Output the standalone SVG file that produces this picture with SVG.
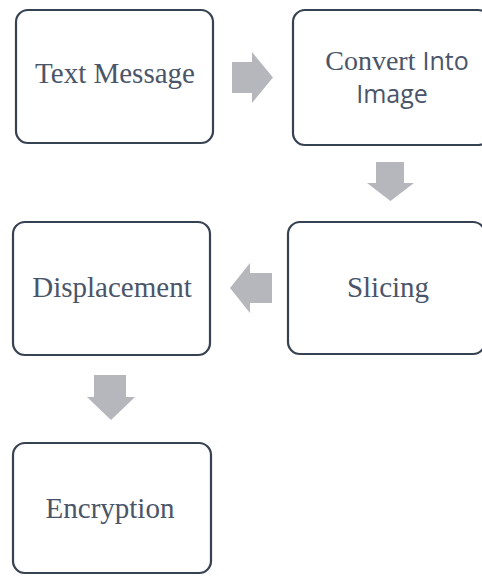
<svg xmlns="http://www.w3.org/2000/svg" width="482" height="576" viewBox="0 0 482 576">
<style>
.box{fill:#ffffff;stroke:#364152;stroke-width:2.2}
.lbl{font-family:"Liberation Serif","DejaVu Serif",serif;font-size:29px;fill:#4a5569;text-anchor:middle}
.two{font-size:28px}
.sans{font-family:"Open Sans","Noto Sans","Liberation Sans",sans-serif;font-size:25px}
.arr{fill:#b5b7bd}
</style>
<rect width="482" height="576" fill="#ffffff"/>
<g id="connectors">
<polygon class="arr" points="232,62 252,62 252,52 273,77.5 252,103 252,93 232,93"/>
<polygon class="arr" points="376,162 404,162 404,183 414,183 390.5,201 367,183 376,183"/>
<polygon class="arr" points="272,273 272,303 250,303 250,313 230,288 250,263 250,273"/>
<polygon class="arr" points="94,375 126,375 126,397 135,397 111,420 87,397 94,397"/>
</g>
<g id="node-text-message">
<rect class="box" x="16" y="10" width="197" height="133" rx="12"/>
<text class="lbl" x="115" y="83">Text Message</text>
</g>
<g id="node-convert">
<rect class="box" x="293" y="10" width="197" height="135" rx="12"/>
<text class="lbl two" x="397" y="70">Convert <tspan class="sans">Into</tspan></text>
<text class="lbl sans" x="392" y="103">Image</text>
</g>
<g id="node-slicing">
<rect class="box" x="288" y="222" width="197" height="132" rx="12"/>
<text class="lbl" x="388" y="297">Slicing</text>
</g>
<g id="node-displacement">
<rect class="box" x="13" y="222" width="197" height="133" rx="12"/>
<text class="lbl" x="112" y="297">Displacement</text>
</g>
<g id="node-encryption">
<rect class="box" x="13" y="443" width="198" height="130" rx="12"/>
<text class="lbl" x="110" y="518">Encryption</text>
</g>
</svg>
